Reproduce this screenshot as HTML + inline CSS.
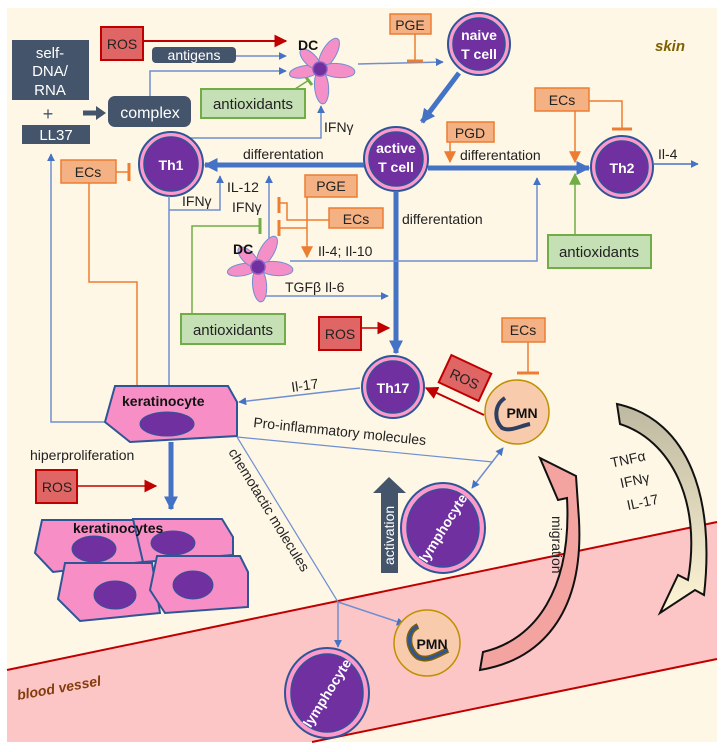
<!DOCTYPE html>
<html><head><meta charset="utf-8"><style>
html,body{margin:0;padding:0;background:#fff;}
svg{display:block;}
text{font-family:"Liberation Sans",sans-serif;}
</style></head><body>
<svg width="724" height="752" viewBox="0 0 724 752" xmlns="http://www.w3.org/2000/svg">
<defs>
<marker id="abs" viewBox="0 0 10 10" refX="9" refY="5" markerWidth="8" markerHeight="8" orient="auto-start-reverse" markerUnits="userSpaceOnUse"><path d="M0,0L10,5L0,10z" fill="#4472c4"/></marker>
<marker id="abl" viewBox="0 0 10 10" refX="9" refY="5" markerWidth="14" markerHeight="14" orient="auto" markerUnits="userSpaceOnUse"><path d="M0,0L10,5L0,10z" fill="#4472c4"/></marker>
<marker id="ar" viewBox="0 0 10 10" refX="9" refY="5" markerWidth="13" markerHeight="13" orient="auto" markerUnits="userSpaceOnUse"><path d="M0,0L10,5L0,10z" fill="#c00000"/></marker>
<marker id="ao" viewBox="0 0 10 10" refX="9" refY="5" markerWidth="12" markerHeight="12" orient="auto" markerUnits="userSpaceOnUse"><path d="M0,0L10,5L0,10z" fill="#ed7d31"/></marker>
<marker id="ag" viewBox="0 0 10 10" refX="9" refY="5" markerWidth="12" markerHeight="12" orient="auto" markerUnits="userSpaceOnUse"><path d="M0,0L10,5L0,10z" fill="#70ad47"/></marker>
<linearGradient id="yg" x1="0" y1="0" x2="0" y2="1"><stop offset="0" stop-color="#bdb8a0"/><stop offset="1" stop-color="#fff5d6"/></linearGradient>
<g id="dc">
<ellipse cx="0" cy="-18" rx="7" ry="17" fill="#f48fc8" stroke="#6f8fd0" transform="rotate(30)"/>
<ellipse cx="0" cy="-18" rx="7" ry="17" fill="#f48fc8" stroke="#6f8fd0" transform="rotate(95)"/>
<ellipse cx="0" cy="-18" rx="7" ry="17" fill="#f48fc8" stroke="#6f8fd0" transform="rotate(175)"/>
<ellipse cx="0" cy="-16" rx="6" ry="15" fill="#f48fc8" stroke="#6f8fd0" transform="rotate(260)"/>
<ellipse cx="0" cy="-14" rx="6" ry="13" fill="#f48fc8" stroke="#6f8fd0" transform="rotate(315)"/>
<circle r="7" fill="#7030a0" stroke="#8e5bbf" stroke-width="1.5"/>
</g>
</defs>

<rect x="7" y="8" width="710" height="734" fill="#fef7e6"/>
<polygon points="7,670 717,522 717,659 312,742 7,742" fill="#fdc6c6"/>
<line x1="7" y1="670" x2="717" y2="522" stroke="#c00000" stroke-width="2"/>
<line x1="312" y1="742" x2="717" y2="659" stroke="#c00000" stroke-width="2"/>
<text x="18" y="700" font-size="14" font-style="italic" font-weight="bold" fill="#843c0c" transform="rotate(-10 18 700)">blood vessel</text>
<text x="655" y="51" font-size="15" font-style="italic" font-weight="bold" fill="#7f6000">skin</text>

<rect x="12" y="40" width="77" height="60" fill="#44546a"/>
<text x="50" y="58" font-size="15" fill="#fff" text-anchor="middle">self-</text>
<text x="50" y="76" font-size="15" fill="#fff" text-anchor="middle">DNA/</text>
<text x="50" y="95" font-size="15" fill="#fff" text-anchor="middle">RNA</text>
<text x="48" y="120" font-size="18" fill="#44546a" text-anchor="middle">+</text>
<rect x="22" y="125" width="68" height="19" fill="#44546a"/>
<text x="56" y="140" font-size="15" fill="#fff" text-anchor="middle">LL37</text>
<path d="M83,113 H98" stroke="#44546a" stroke-width="5"/><path d="M96,106 L106,113 L96,120z" fill="#44546a"/>
<rect x="108" y="96" width="83" height="31" rx="7" fill="#44546a"/>
<text x="150" y="118" font-size="16" fill="#fff" text-anchor="middle">complex</text>
<rect x="101" y="27" width="42" height="33" fill="#e06666" stroke="#c00000" stroke-width="2"/>
<text x="122" y="49" font-size="14" fill="#222" text-anchor="middle">ROS</text>
<line x1="143" y1="41" x2="286" y2="41" stroke="#c00000" stroke-width="2" marker-end="url(#ar)"/>
<rect x="152" y="47" width="84" height="16" rx="4" fill="#44546a"/>
<text x="194" y="60" font-size="14" fill="#fff" text-anchor="middle">antigens</text>
<line x1="236" y1="56" x2="286" y2="56" stroke="#6f8fd0" stroke-width="1.5" marker-end="url(#abs)"/>
<path d="M150,96 V71 H286" fill="none" stroke="#6f8fd0" stroke-width="1.5" marker-end="url(#abs)"/>
<rect x="201" y="89" width="104" height="29" fill="#c5e0b4" stroke="#70ad47" stroke-width="2"/>
<text x="253" y="109" font-size="15" fill="#222" text-anchor="middle">antioxidants</text>
<line x1="295" y1="89" x2="309" y2="80" stroke="#70ad47" stroke-width="1.5"/>
<line x1="305" y1="76" x2="312" y2="85" stroke="#70ad47" stroke-width="3"/>
<use href="#dc" x="320" y="69"/>
<text x="298" y="50" font-size="14" font-weight="bold" fill="#111">DC</text>
<path d="M190,138 H321 V106" fill="none" stroke="#6f8fd0" stroke-width="1.5" marker-end="url(#abs)"/>
<text x="324" y="132" font-size="14" fill="#222">IFNγ</text>
<line x1="358" y1="64" x2="443" y2="62" stroke="#6f8fd0" stroke-width="1.5" marker-end="url(#abs)"/>
<rect x="390" y="14" width="41" height="20" fill="#f4b183" stroke="#ed7d31" stroke-width="1.5"/>
<text x="410" y="30" font-size="14" fill="#222" text-anchor="middle">PGE</text>
<line x1="415" y1="34" x2="415" y2="61" stroke="#ed7d31" stroke-width="1.5"/>
<line x1="407" y1="61" x2="423" y2="61" stroke="#ed7d31" stroke-width="3"/>

<g stroke="#2f5597">
<circle cx="479" cy="44" r="31" fill="#ff99cc" stroke-width="2"/><circle cx="479" cy="44" r="26" fill="#7030a0" stroke-width="1.5"/>
<circle cx="396" cy="159" r="32" fill="#ff99cc" stroke-width="2"/><circle cx="396" cy="159" r="27" fill="#7030a0" stroke-width="1.5"/>
<circle cx="171" cy="164" r="32" fill="#ff99cc" stroke-width="2"/><circle cx="171" cy="164" r="27" fill="#7030a0" stroke-width="1.5"/>
<circle cx="622" cy="167" r="31" fill="#ff99cc" stroke-width="2"/><circle cx="622" cy="167" r="26" fill="#7030a0" stroke-width="1.5"/>
<circle cx="393" cy="387" r="31" fill="#ff99cc" stroke-width="2"/><circle cx="393" cy="387" r="26" fill="#7030a0" stroke-width="1.5"/>
</g>
<text x="479" y="40" font-size="14" font-weight="bold" fill="#fff" text-anchor="middle">naive</text>
<text x="479" y="59" font-size="14" font-weight="bold" fill="#fff" text-anchor="middle">T cell</text>
<text x="396" y="153" font-size="14" font-weight="bold" fill="#fff" text-anchor="middle">active</text>
<text x="396" y="172" font-size="14" font-weight="bold" fill="#fff" text-anchor="middle">T cell</text>
<text x="171" y="170" font-size="14" font-weight="bold" fill="#fff" text-anchor="middle">Th1</text>
<text x="622" y="173" font-size="14" font-weight="bold" fill="#fff" text-anchor="middle">Th2</text>
<text x="393" y="393" font-size="14" font-weight="bold" fill="#fff" text-anchor="middle">Th17</text>

<line x1="459" y1="73" x2="422" y2="122" stroke="#4472c4" stroke-width="5" marker-end="url(#abl)"/>
<line x1="364" y1="165" x2="205" y2="165" stroke="#4472c4" stroke-width="5" marker-end="url(#abl)"/>
<text x="243" y="159" font-size="14" fill="#222">differentation</text>
<line x1="428" y1="168" x2="589" y2="168" stroke="#4472c4" stroke-width="5" marker-end="url(#abl)"/>
<text x="460" y="160" font-size="14" fill="#222">differentation</text>
<line x1="396" y1="191" x2="396" y2="353" stroke="#4472c4" stroke-width="5" marker-end="url(#abl)"/>
<text x="402" y="224" font-size="14" fill="#222">differentation</text>

<rect x="447" y="122" width="47" height="20" fill="#f4b183" stroke="#ed7d31" stroke-width="1.5"/>
<text x="470" y="138" font-size="14" fill="#222" text-anchor="middle">PGD</text>
<line x1="450" y1="142" x2="450" y2="162" stroke="#ed7d31" stroke-width="1.5" marker-end="url(#ao)"/>
<rect x="535" y="88" width="54" height="23" fill="#f4b183" stroke="#ed7d31" stroke-width="1.5"/>
<text x="562" y="105" font-size="14" fill="#222" text-anchor="middle">ECs</text>
<line x1="575" y1="111" x2="575" y2="162" stroke="#ed7d31" stroke-width="1.5" marker-end="url(#ao)"/>
<path d="M589,101 H622 V129" fill="none" stroke="#ed7d31" stroke-width="1.5"/>
<line x1="612" y1="129" x2="632" y2="129" stroke="#ed7d31" stroke-width="3"/>
<line x1="653" y1="164" x2="698" y2="164" stroke="#4472c4" stroke-width="1.5" marker-end="url(#abs)"/>
<text x="658" y="159" font-size="14" fill="#222">Il-4</text>
<rect x="548" y="235" width="103" height="33" fill="#c5e0b4" stroke="#70ad47" stroke-width="2"/>
<text x="599" y="257" font-size="15" fill="#222" text-anchor="middle">antioxidants</text>
<line x1="575" y1="235" x2="575" y2="174" stroke="#70ad47" stroke-width="1.5" marker-end="url(#ag)"/>

<rect x="61" y="160" width="55" height="23" fill="#f4b183" stroke="#ed7d31" stroke-width="1.5"/>
<text x="88" y="177" font-size="14" fill="#222" text-anchor="middle">ECs</text>
<line x1="116" y1="172" x2="129" y2="172" stroke="#ed7d31" stroke-width="1.5"/>
<line x1="129" y1="163" x2="129" y2="181" stroke="#ed7d31" stroke-width="3"/>
<path d="M89,183 V282 H137 V405" fill="none" stroke="#ed7d31" stroke-width="1.5"/>
<line x1="127" y1="406" x2="147" y2="406" stroke="#ed7d31" stroke-width="3"/>
<path d="M107,422 H51 V154" fill="none" stroke="#6f8fd0" stroke-width="1.5" marker-end="url(#abs)"/>
<line x1="169" y1="196" x2="169" y2="397" stroke="#6f8fd0" stroke-width="1.5" marker-end="url(#abs)"/>
<path d="M169,210 H220 V176" fill="none" stroke="#6f8fd0" stroke-width="1.5" marker-end="url(#abs)"/>
<text x="182" y="206" font-size="14" fill="#222">IFNγ</text>
<text x="227" y="192" font-size="14" fill="#222">IL-12</text>
<text x="232" y="212" font-size="14" fill="#222">IFNγ</text>
<line x1="269" y1="252" x2="269" y2="176" stroke="#6f8fd0" stroke-width="1.5" marker-end="url(#abs)"/>
<rect x="305" y="175" width="52" height="22" fill="#f4b183" stroke="#ed7d31" stroke-width="1.5"/>
<text x="331" y="191" font-size="14" fill="#222" text-anchor="middle">PGE</text>
<line x1="307" y1="197" x2="307" y2="257" stroke="#ed7d31" stroke-width="1.5" marker-end="url(#ao)"/>
<rect x="329" y="208" width="54" height="20" fill="#f4b183" stroke="#ed7d31" stroke-width="1.5"/>
<text x="356" y="224" font-size="14" fill="#222" text-anchor="middle">ECs</text>
<path d="M329,220 H287 V203 H280" fill="none" stroke="#ed7d31" stroke-width="1.5"/>
<line x1="307" y1="228" x2="280" y2="228" stroke="#ed7d31" stroke-width="1.5"/>
<line x1="279" y1="197" x2="279" y2="213" stroke="#ed7d31" stroke-width="3"/>
<line x1="279" y1="220" x2="279" y2="236" stroke="#ed7d31" stroke-width="3"/>
<path d="M192,313 V226 H260" fill="none" stroke="#70ad47" stroke-width="1.5"/>
<line x1="260" y1="218" x2="260" y2="234" stroke="#70ad47" stroke-width="3"/>
<use href="#dc" x="258" y="267"/>
<text x="233" y="254" font-size="14" font-weight="bold" fill="#111">DC</text>
<text x="318" y="256" font-size="14" fill="#222">Il-4; Il-10</text>
<path d="M290,261 H537 V178" fill="none" stroke="#6f8fd0" stroke-width="1.5" marker-end="url(#abs)"/>
<text x="285" y="292" font-size="14" fill="#222">TGFβ Il-6</text>
<path d="M266,296 H388" fill="none" stroke="#6f8fd0" stroke-width="1.5" marker-end="url(#abs)"/>
<rect x="181" y="314" width="104" height="30" fill="#c5e0b4" stroke="#70ad47" stroke-width="2"/>
<text x="233" y="335" font-size="15" fill="#222" text-anchor="middle">antioxidants</text>
<rect x="319" y="317" width="42" height="33" fill="#e06666" stroke="#c00000" stroke-width="2"/>
<text x="340" y="339" font-size="14" fill="#222" text-anchor="middle">ROS</text>
<line x1="361" y1="328" x2="389" y2="328" stroke="#c00000" stroke-width="1.5" marker-end="url(#ar)"/>

<rect x="502" y="318" width="43" height="24" fill="#f4b183" stroke="#ed7d31" stroke-width="1.5"/>
<text x="523" y="335" font-size="14" fill="#222" text-anchor="middle">ECs</text>
<line x1="528" y1="342" x2="528" y2="373" stroke="#ed7d31" stroke-width="1.5"/>
<line x1="517" y1="373" x2="539" y2="373" stroke="#ed7d31" stroke-width="3"/>
<g transform="rotate(25 465 378)"><rect x="443" y="363" width="44" height="30" fill="#e06666" stroke="#c00000" stroke-width="2"/>
<text x="465" y="384" font-size="14" fill="#222" text-anchor="middle">ROS</text></g>
<line x1="484" y1="415" x2="426" y2="388" stroke="#c00000" stroke-width="2" marker-end="url(#ar)"/>
<circle cx="517" cy="412" r="32" fill="#f8cbad" stroke="#bf9000" stroke-width="1.5"/>
<path d="M505,398 C494,405 494,420 502,428 C510,432 520,426 530,424" fill="none" stroke="#2f3f5f" stroke-width="4"/>
<text x="522" y="418" font-size="14" font-weight="bold" fill="#111" text-anchor="middle">PMN</text>
<line x1="360" y1="388" x2="239" y2="402" stroke="#6f8fd0" stroke-width="1.5" marker-end="url(#abs)"/>
<text x="292" y="392" font-size="14" fill="#222" transform="rotate(-8 292 392)">Il-17</text>

<polygon points="115,386 228,386 237,402 237,436 130,442 105,422" fill="#f78fc6" stroke="#2f5597" stroke-width="2"/>
<text x="122" y="406" font-size="14" font-weight="bold" fill="#111">keratinocyte</text>
<ellipse cx="167" cy="424" rx="27" ry="12" fill="#7030a0" stroke="#2f5597"/>
<line x1="237" y1="437" x2="493" y2="462" stroke="#6f8fd0" stroke-width="1.2"/>
<text x="253" y="427" font-size="14" fill="#222" transform="rotate(6 253 427)">Pro-inflammatory molecules</text>
<line x1="472" y1="488" x2="503" y2="448" stroke="#6f8fd0" stroke-width="1.5" marker-start="url(#abs)" marker-end="url(#abs)"/>
<text x="30" y="460" font-size="14" fill="#222">hiperproliferation</text>
<rect x="36" y="470" width="41" height="33" fill="#e06666" stroke="#c00000" stroke-width="2"/>
<text x="57" y="492" font-size="14" fill="#222" text-anchor="middle">ROS</text>
<line x1="77" y1="486" x2="156" y2="486" stroke="#c00000" stroke-width="1.5" marker-end="url(#ar)"/>
<line x1="171" y1="442" x2="171" y2="509" stroke="#4472c4" stroke-width="5" marker-end="url(#abl)"/>

<g fill="#f78fc6" stroke="#2f5597" stroke-width="2">
<polygon points="42,520 140,520 143,562 53,572 35,553"/>
<polygon points="133,519 222,519 233,537 233,555 143,562"/>
<polygon points="65,563 152,563 160,613 80,621 58,599"/>
<polygon points="157,556 240,556 248,572 248,607 165,613 150,590"/>
</g>
<g fill="#7030a0" stroke="#2f5597">
<ellipse cx="94" cy="549" rx="22" ry="13"/>
<ellipse cx="173" cy="543" rx="22" ry="12"/>
<ellipse cx="115" cy="595" rx="21" ry="14"/>
<ellipse cx="193" cy="585" rx="20" ry="14"/>
</g>
<text x="73" y="533" font-size="14" font-weight="bold" fill="#111">keratinocytes</text>

<line x1="237" y1="437" x2="338" y2="602" stroke="#6f8fd0" stroke-width="1.2"/>
<text x="228" y="452" font-size="14" fill="#222" transform="rotate(58.5 228 452)">chemotactic molecules</text>
<line x1="338" y1="602" x2="338" y2="647" stroke="#6f8fd0" stroke-width="1.5" marker-end="url(#abs)"/>
<line x1="338" y1="602" x2="404" y2="624" stroke="#6f8fd0" stroke-width="1.5" marker-end="url(#abs)"/>

<polygon points="381,573 398,573 398,493 406,493 389,477 373,493 381,493" fill="#44546a"/>
<text x="394" y="565" font-size="14" fill="#fff" transform="rotate(-90 394 565)">activation</text>

<g stroke="#2f5597">
<ellipse cx="443" cy="528" rx="42" ry="45" fill="#ff99cc" stroke-width="2"/><ellipse cx="443" cy="528" rx="36" ry="39" fill="#7030a0" stroke-width="1.5"/>
<ellipse cx="327" cy="693" rx="42" ry="45" fill="#ff99cc" stroke-width="2"/><ellipse cx="327" cy="693" rx="36" ry="39" fill="#7030a0" stroke-width="1.5"/>
</g>
<text x="443" y="533" font-size="14" font-weight="bold" fill="#fff" text-anchor="middle" transform="rotate(-58 443 528)">lymphocyte</text>
<text x="327" y="698" font-size="14" font-weight="bold" fill="#fff" text-anchor="middle" transform="rotate(-58 327 693)">lymphocyte</text>

<circle cx="427" cy="643" r="33" fill="#f8cbad" stroke="#bf9000" stroke-width="1.5"/>
<path d="M418,626 C405,632 408,650 418,657 C428,662 438,654 448,650" fill="none" stroke="#7f6000" stroke-width="6"/>
<path d="M418,626 C405,632 408,650 418,657 C428,662 438,654 448,650" fill="none" stroke="#2f5597" stroke-width="3"/>
<text x="432" y="649" font-size="14" font-weight="bold" fill="#111" text-anchor="middle">PMN</text>

<!-- migration arrow -->
<path d="M480,670 C540,660 584,615 579,520 L576,476 L540,458 L558,500 L567,498 C572,590 535,640 483,652 Z" fill="#f4a4a0" stroke="#111" stroke-width="2"/>
<text x="552" y="516" font-size="14" fill="#222" transform="rotate(90 552 516)">migration</text>

<!-- yellow arrow -->
<path d="M617,404 L620,424 C670,440 702,500 688,580 L678,575 L660,613 L695,590 L704,595 C715,500 690,420 617,404 Z" fill="url(#yg)" stroke="#111" stroke-width="2"/>
<g font-size="14" fill="#222" transform="rotate(-12 640 480)">
<text x="615" y="462">TNFα</text>
<text x="620" y="484">IFNγ</text>
<text x="622" y="507">IL-17</text>
</g>
</svg>
</body></html>
